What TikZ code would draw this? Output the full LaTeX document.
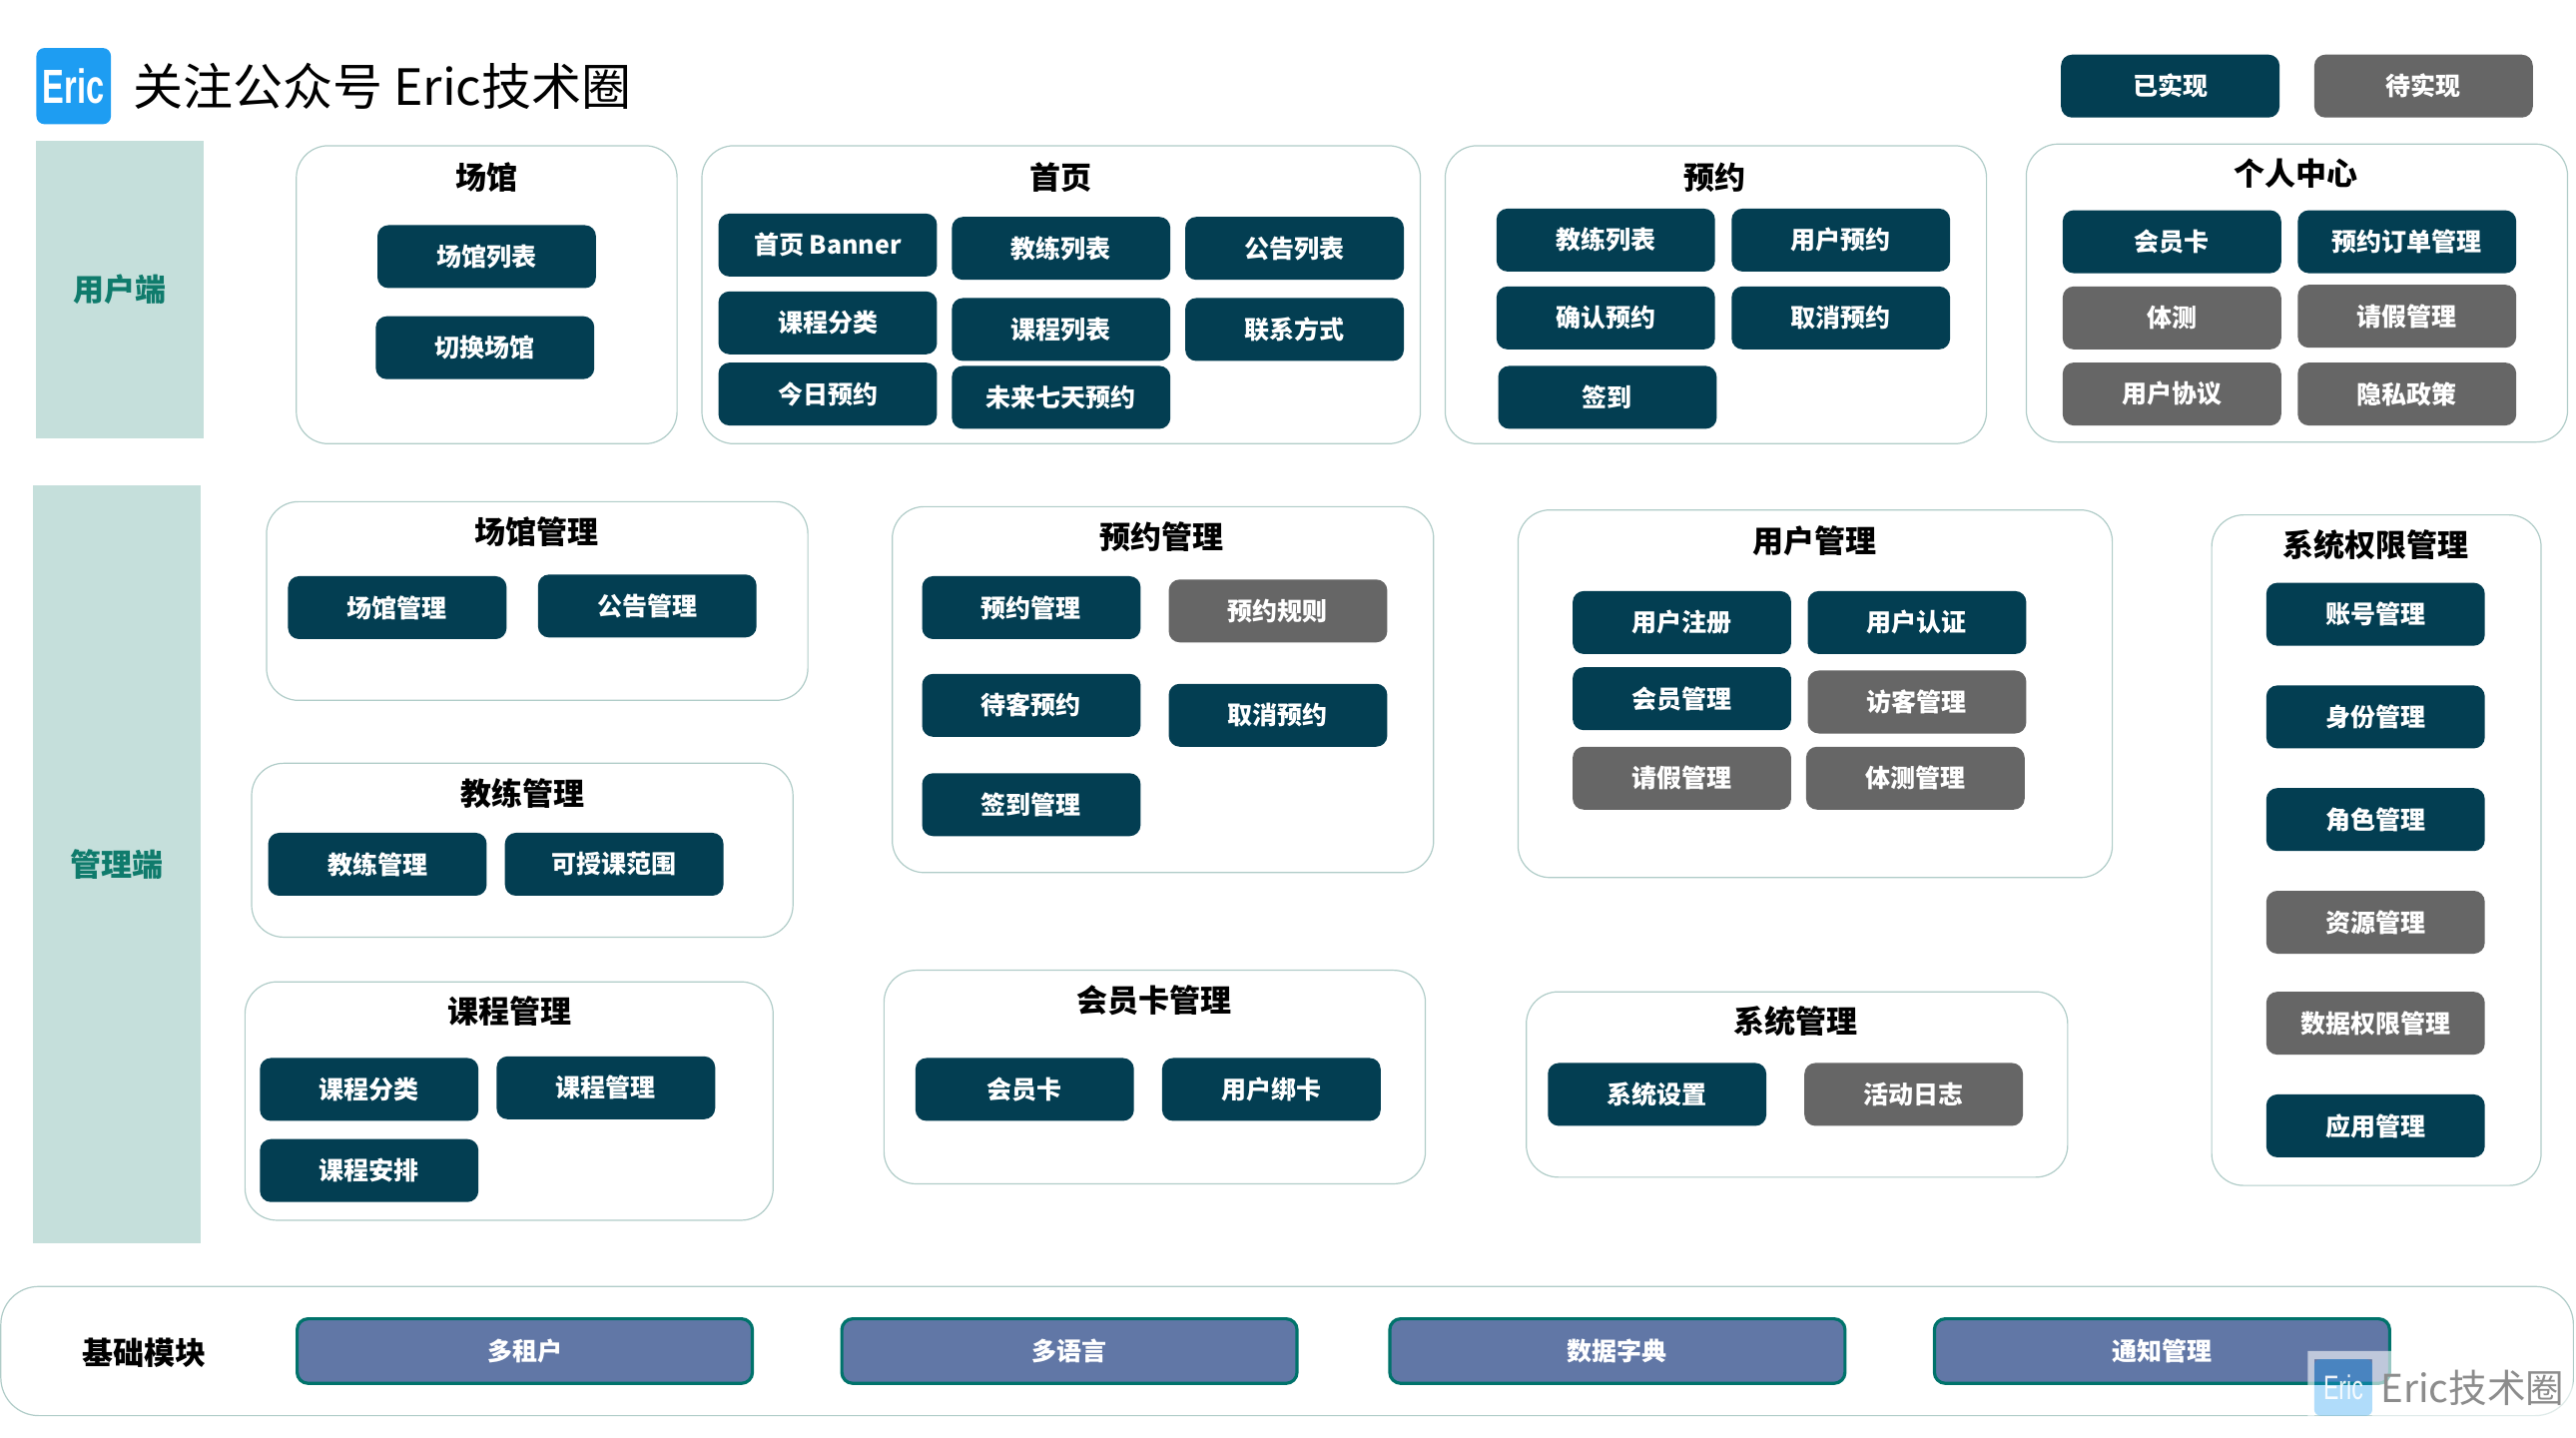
\documentclass[tikz,border=0pt]{standalone}
\usepackage{fontspec}
\setmainfont{Noto Sans CJK SC}
\newfontfamily\logofont[FakeStretch=0.68]{Liberation Sans}
\definecolor{doneblue}{HTML}{033E52}
\definecolor{todogray}{HTML}{666666}
\definecolor{bandgreen}{HTML}{C5DFDB}
\definecolor{bandtext}{HTML}{0F7B6C}
\definecolor{panelline}{HTML}{B0CCC8}
\definecolor{baseblue}{HTML}{6177A6}
\definecolor{baseline}{HTML}{00736B}
\definecolor{logoblue}{HTML}{1E9DF2}
\newcommand{\upx}{0.829pt}
\tikzset{
  panel/.style={draw=panelline, line width=0.6pt, fill=white, rounded corners=16pt},
  paneltitle/.style={font=\fontsize{15.5}{15.5}\selectfont\bfseries, text=black},
  done/.style={fill=doneblue, rounded corners=5.5pt, minimum width=132*\upx, minimum height=38*\upx,
    inner sep=0pt, text=white, font=\fontsize{12.5}{12.5}\selectfont\bfseries},
  todo/.style={done, fill=todogray},
  band/.style={fill=bandgreen, minimum width=101*\upx, inner sep=0pt, text=bandtext,
    font=\fontsize{15.5}{15.5}\selectfont\bfseries},
  basebox/.style={done, fill=baseblue, draw=baseline, line width=1.6pt, minimum width=275*\upx, minimum height=39*\upx}
}
\begin{document}
\begin{tikzpicture}[x=0.829pt, y=-0.829pt]
\useasboundingbox (0,0) rectangle (1556.09,868.5);

% header
\node[fill=logoblue, rounded corners=4pt, minimum width=45*\upx, minimum height=46*\upx, inner sep=0pt,
  text=white, font=\logofont\fontsize{24}{24}\selectfont\bfseries] (logo) at (44.5,52) {Eric};
\node[anchor=west, inner sep=0pt, font=\fontsize{25}{25}\selectfont] (headline) at (80,52) {关注公众号 Eric技术圈};
\node[done] (legenddone) at (1311,52) {已实现};
\node[todo] (legendtodo) at (1464,52) {待实现};

% user side
\node[band, minimum height=180*\upx] (userband) at (72.5,175) {用户端};

\node[panel, minimum width=230*\upx, minimum height=180*\upx] (venue) at (294,178) {};
\node[paneltitle] (venuetitle) at (294,107) {场馆};
\node[done] (venuelist) at (294,155) {场馆列表};
\node[done] (venueswitch) at (293,210) {切换场馆};

\node[panel, minimum width=434*\upx, minimum height=180*\upx] (home) at (641,178) {};
\node[paneltitle] (hometitle) at (641,107) {首页};
\node[done] (homebanner) at (500,148) {首页 Banner};
\node[done] (homecoach) at (641,150) {教练列表};
\node[done] (homenotice) at (782,150) {公告列表};
\node[done] (homecat) at (500,195) {课程分类};
\node[done] (homecourse) at (641,199) {课程列表};
\node[done] (homecontact) at (782,199) {联系方式};
\node[done] (hometoday) at (500,238) {今日预约};
\node[done] (homeweek) at (641,240) {未来七天预约};

\node[panel, minimum width=327*\upx, minimum height=180*\upx] (book) at (1036.5,178) {};
\node[paneltitle] (booktitle) at (1036,107) {预约};
\node[done] (bookcoach) at (970,145) {教练列表};
\node[done] (bookuser) at (1112,145) {用户预约};
\node[done] (bookconfirm) at (970,192) {确认预约};
\node[done] (bookcancel) at (1112,192) {取消预约};
\node[done] (booksign) at (971,240) {签到};

\node[panel, minimum width=327*\upx, minimum height=180*\upx] (me) at (1387.5,177) {};
\node[paneltitle] (metitle) at (1387,105) {个人中心};
\node[done] (mecard) at (1312,146) {会员卡};
\node[done] (meorder) at (1454,146) {预约订单管理};
\node[todo] (mebody) at (1312,192) {体测};
\node[todo] (meleave) at (1454,191) {请假管理};
\node[todo] (meterms) at (1312,238) {用户协议};
\node[todo] (meprivacy) at (1454,238) {隐私政策};

% admin side
\node[band, minimum height=458*\upx] (adminband) at (70.5,522) {管理端};

\node[panel, minimum width=327*\upx, minimum height=120*\upx] (venueadm) at (324.5,363) {};
\node[paneltitle] (venueadmtitle) at (324,321) {场馆管理};
\node[done] (venueadmmain) at (240,367) {场馆管理};
\node[done] (venueadmnotice) at (391,366) {公告管理};

\node[panel, minimum width=327*\upx, minimum height=105*\upx] (coachadm) at (315.5,513.5) {};
\node[paneltitle] (coachadmtitle) at (316,479) {教练管理};
\node[done] (coachadmmain) at (228,522) {教练管理};
\node[done] (coachadmrange) at (371,522) {可授课范围};

\node[panel, minimum width=319*\upx, minimum height=144*\upx] (courseadm) at (307.5,665) {};
\node[paneltitle] (courseadmtitle) at (308,611) {课程管理};
\node[done] (courseadmcat) at (223,658) {课程分类};
\node[done] (courseadmmain) at (366,657) {课程管理};
\node[done] (courseadmplan) at (223,707) {课程安排};

\node[panel, minimum width=327*\upx, minimum height=221*\upx] (bookadm) at (702.5,416.5) {};
\node[paneltitle] (bookadmtitle) at (702,324) {预约管理};
\node[done] (bookadmmain) at (623,367) {预约管理};
\node[todo] (bookadmrule) at (772,369) {预约规则};
\node[done] (bookadmguest) at (623,426) {待客预约};
\node[done] (bookadmcancel) at (772,432) {取消预约};
\node[done] (bookadmsign) at (623,486) {签到管理};

\node[panel, minimum width=327*\upx, minimum height=129*\upx] (cardadm) at (697.5,650.5) {};
\node[paneltitle] (cardadmtitle) at (697,604) {会员卡管理};
\node[done] (cardadmmain) at (619,658) {会员卡};
\node[done] (cardadmbind) at (768,658) {用户绑卡};

\node[panel, minimum width=359*\upx, minimum height=222*\upx] (useradm) at (1096.5,419) {};
\node[paneltitle] (useradmtitle) at (1096,327) {用户管理};
\node[done] (useradmreg) at (1016,376) {用户注册};
\node[done] (useradmauth) at (1158,376) {用户认证};
\node[done] (useradmmember) at (1016,422) {会员管理};
\node[todo] (useradmvisitor) at (1158,424) {访客管理};
\node[todo] (useradmleave) at (1016,470) {请假管理};
\node[todo] (useradmbody) at (1157,470) {体测管理};

\node[panel, minimum width=327*\upx, minimum height=112*\upx] (sysadm) at (1085.5,655) {};
\node[paneltitle] (sysadmtitle) at (1085,617) {系统管理};
\node[done] (sysadmset) at (1001,661) {系统设置};
\node[todo] (sysadmlog) at (1156,661) {活动日志};

\node[panel, minimum width=199*\upx, minimum height=405*\upx] (auth) at (1435.5,513.5) {};
\node[paneltitle] (authtitle) at (1435,329) {系统权限管理};
\node[done] (authaccount) at (1435,371) {账号管理};
\node[done] (authidentity) at (1435,433) {身份管理};
\node[done] (authrole) at (1435,495) {角色管理};
\node[todo] (authres) at (1435,557) {资源管理};
\node[todo] (authdata) at (1435,618) {数据权限管理};
\node[done] (authapp) at (1435,680) {应用管理};

% base modules
\node[panel, minimum width=1554*\upx, minimum height=78*\upx, rounded corners=19pt] (base) at (777.5,816) {};
\node[paneltitle] (basetitle) at (87,817) {基础模块};
\node[basebox] (basetenant) at (317,816) {多租户};
\node[basebox] (baselang) at (646,816) {多语言};
\node[basebox] (basedict) at (977,816) {数据字典};
\node[basebox] (basenotice) at (1306,816) {通知管理};

% watermark
\fill[white, fill opacity=0.6, even odd rule] (1394,816) rectangle (1554,860) (1398,821) rectangle (1433,855);
\node[fill=logoblue, fill opacity=0.35, text opacity=0.9, rounded corners=3pt, minimum width=35*\upx, minimum height=34*\upx, inner sep=0pt,
  text=white, font=\logofont\fontsize{17}{17}\selectfont] (marklogo) at (1415.5,838) {Eric};
\node[anchor=west, inner sep=0pt, text=black!45, font=\fontsize{19.3}{19.3}\selectfont] (marktext) at (1438,838) {Eric技术圈};
\end{tikzpicture}
\end{document}
